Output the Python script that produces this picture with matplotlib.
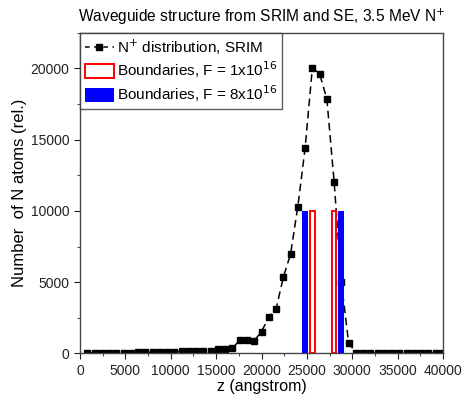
import matplotlib

matplotlib.use("Agg")
import matplotlib.pyplot as plt
from matplotlib.lines import Line2D
from matplotlib.patches import Patch
from matplotlib.ticker import MultipleLocator

plt.rcParams["font.family"] = ["Liberation Sans", "DejaVu Sans"]

# SRIM depth profile (angstrom, relative number of N atoms)
z = [800 * k for k in range(1, 51)]
n_atoms = [30, 40, 40, 50, 50, 60, 60, 70, 80, 90,
           100, 110, 130, 140, 170, 190, 200, 180, 330, 280,
           380, 930, 930, 900, 1540, 2540, 3110, 5340, 6970, 10300,
           14380, 20020, 19630, 17850, 12050, 5000, 740, 60, 50, 40,
           40, 40, 30, 30, 30, 30, 30, 30, 30, 30]

# waveguide boundaries from SE
bound_f1 = [25600, 28000]
bound_f8 = [24800, 28800]
bound_height = 10000

fig = plt.figure(figsize=(4.62, 3.97), dpi=100)
ax = fig.add_axes([0.1732, 0.1096, 0.7857, 0.808])

ax.plot(z, n_atoms, color="black", ls=(0, (5, 3)), lw=1.1,
        marker="s", markersize=4, zorder=2)
ax.bar(bound_f8, [bound_height] * len(bound_f8), width=650,
       color="#0000ff", edgecolor="none", zorder=3)
ax.bar(bound_f1, [bound_height] * len(bound_f1), width=500,
       facecolor="white", edgecolor="#ff0000", lw=1.4, zorder=3)

ax.set_xlim(0, 40000)
ax.set_ylim(0, 22500)
ax.xaxis.set_major_locator(MultipleLocator(5000))
ax.xaxis.set_minor_locator(MultipleLocator(2500))
ax.yaxis.set_major_locator(MultipleLocator(5000))
ax.yaxis.set_minor_locator(MultipleLocator(2500))
ax.tick_params(which="both", direction="out", labelsize=10, colors="#222222",
               top=False, right=False)
ax.tick_params(which="major", length=4)
ax.tick_params(which="minor", length=2.5)
for sp in ax.spines.values():
    sp.set_color("#444444")
    sp.set_linewidth(1.0)

ax.set_xlabel("z (angstrom)", fontsize=11.5, labelpad=1)
ax.set_ylabel("Number  of N atoms (rel.)", fontsize=12, labelpad=3)
ax.set_title("Waveguide structure from SRIM and SE, 3.5 MeV N$^{+}$",
             fontsize=11.2, pad=8)

handles = [
    Line2D([], [], color="black", ls=(0, (3, 3)), lw=1.1, marker="s", markersize=4.5),
    Patch(facecolor="white", edgecolor="#ff0000", lw=1.4),
    Patch(facecolor="#0000ff", edgecolor="none"),
]
labels = ["N$^{+}$ distribution, SRIM",
          "Boundaries, F = 1x10$^{16}$",
          "Boundaries, F = 8x10$^{16}$"]
leg = ax.legend(handles, labels, loc="upper left", borderaxespad=0,
                fontsize=11, frameon=True, fancybox=False, handlelength=1.9,
                handleheight=1.0, handletextpad=0.25, labelspacing=0.2,
                borderpad=0.3)
leg.get_frame().set_edgecolor("#333333")
leg.get_frame().set_linewidth(1.0)

fig.savefig("out.png", dpi=100)
